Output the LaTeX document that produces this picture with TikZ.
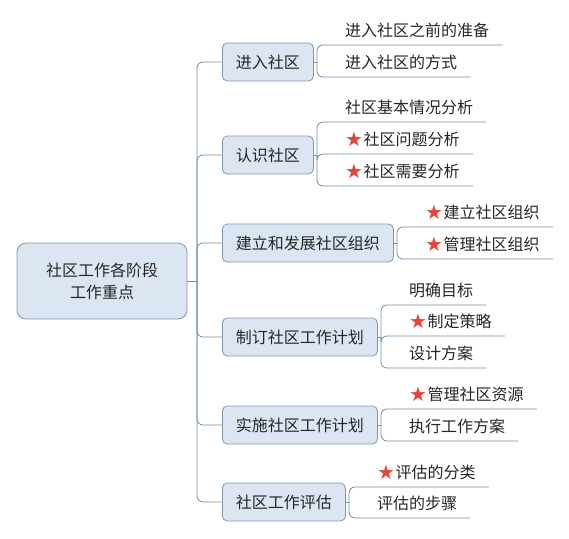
\documentclass[tikz,border=0pt]{standalone}
\usepackage{fontspec}
\setmainfont{Noto Sans CJK SC}
\newfontfamily\dejavu{DejaVu Sans}
\definecolor{boxfill}{HTML}{DCE6F2}
\definecolor{boxline}{HTML}{7F97B2}
\definecolor{conncol}{HTML}{6F8DAD}
\definecolor{txt}{HTML}{262626}
\definecolor{starred}{HTML}{E5453F}
\newcommand\stR{\raisebox{-1pt}{\textcolor{starred}{\dejavu\fontsize{20}{20}\selectfont ★}}\hspace{0.5pt}}
\newcommand\lf[1]{\hspace*{28pt}#1\hspace*{13pt}}
\tikzset{
  x=1pt,y=-1pt,
  every node/.style={font=\fontsize{16}{22}\selectfont, text=txt},
  branch/.style={draw=boxline, fill=boxfill, rounded corners=5pt, line width=0.8pt,
    minimum height=38pt, inner xsep=13.5pt, anchor=west},
  rootbox/.style={draw=boxline, fill=boxfill, rounded corners=9pt, line width=0.8pt,
    minimum width=170pt, minimum height=76pt, align=center},
  leaf/.style={inner xsep=0pt, inner ysep=8pt, text depth=0pt, anchor=south west},
  conn/.style={draw=conncol, line width=0.8pt, rounded corners=6pt},
}
\begin{document}
\begin{tikzpicture}
\useasboundingbox (0,0) rectangle (569,538);
% root
\node[rootbox] (root) at (102,281) {社区工作各阶段\\工作重点};
\coordinate (trunk) at (197,281);
% branches
\node[branch] (b1) at (222,62) {进入社区};
\node[branch] (b2) at (222,155) {认识社区};
\node[branch] (b3) at (222,243) {建立和发展社区组织};
\node[branch] (b4) at (222,337) {制订社区工作计划};
\node[branch] (b5) at (222,425) {实施社区工作计划};
\node[branch] (b6) at (222,502) {社区工作评估};
% leaves
\node[leaf] (l11) at (317,45) {\lf{进入社区之前的准备}};
\node[leaf] (l12) at (317,77) {\lf{进入社区的方式}};
\node[leaf] (l21) at (317,122) {\lf{社区基本情况分析}};
\node[leaf] (l22) at (317,154) {\lf{\stR 社区问题分析}};
\node[leaf] (l23) at (317,186) {\lf{\stR 社区需要分析}};
\node[leaf] (l31) at (397,227) {\lf{\stR 建立社区组织}};
\node[leaf] (l32) at (397,259) {\lf{\stR 管理社区组织}};
\node[leaf] (l41) at (381,305) {\lf{明确目标}};
\node[leaf] (l42) at (381,336) {\lf{\stR 制定策略}};
\node[leaf] (l43) at (381,368) {\lf{设计方案}};
\node[leaf] (l51) at (381,409) {\lf{\stR 管理社区资源}};
\node[leaf] (l52) at (381,441) {\lf{执行工作方案}};
\node[leaf] (l61) at (349,487) {\lf{\stR 评估的分类}};
\node[leaf] (l62) at (349,518) {\lf{评估的步骤}};
% trunk connectors
\draw[conn] (root.east) -- (trunk);
\foreach \b in {b1,b2,b3,b4,b5,b6}
  \draw[conn] (trunk) |- (\b.west);
% leaf connectors
\foreach \b/\ls in {b1/{l11,l12}, b2/{l21,l22,l23}, b3/{l31,l32}, b4/{l41,l42,l43}, b5/{l51,l52}, b6/{l61,l62}}{
  \foreach \l in \ls {
    \draw[conn, rounded corners=0pt] (\b.east) -- (\b.east -| \l.south west);
    \draw[conn] (\b.east -| \l.south west) |- (\l.south east);
  }
}
\end{tikzpicture}
\end{document}
